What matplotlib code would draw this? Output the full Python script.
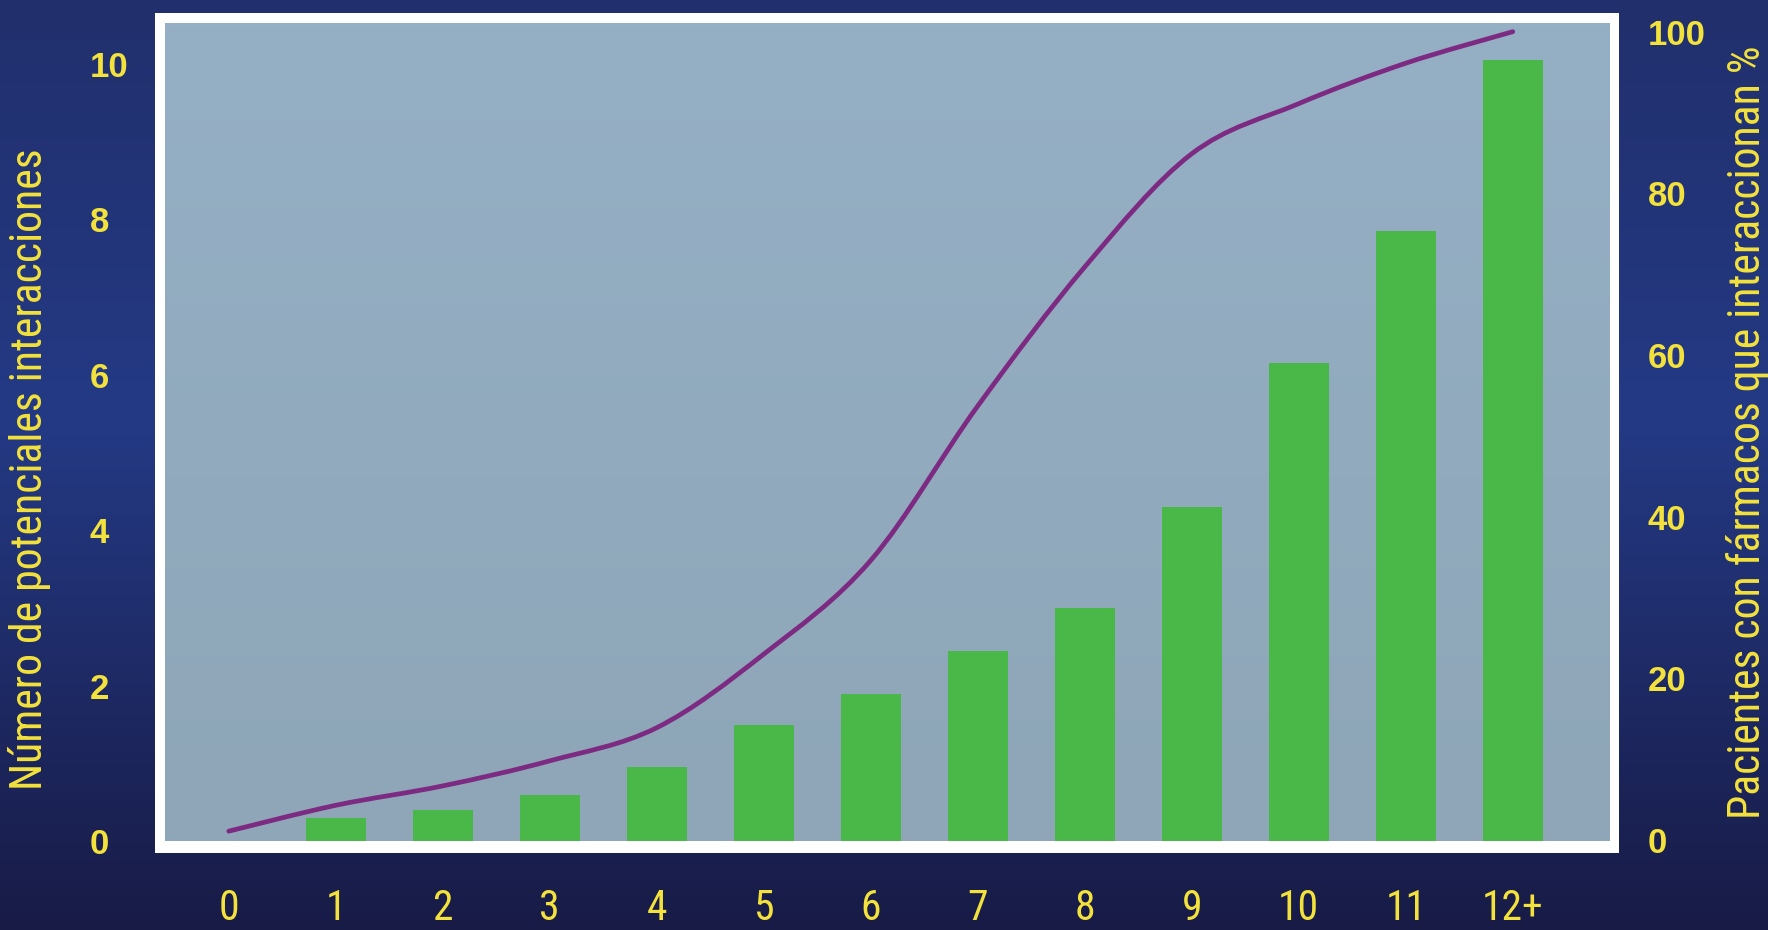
import numpy as np
import matplotlib.pyplot as plt
from matplotlib.patches import Rectangle, PathPatch
from matplotlib.path import Path
from matplotlib.colors import LinearSegmentedColormap

# number of drugs per patient
categories = ['0', '1', '2', '3', '4', '5', '6', '7', '8', '9', '10', '11', '12+']
# potential interactions (left axis, bars)
interactions = [0, 0.3, 0.4, 0.6, 0.95, 1.5, 1.9, 2.45, 3.0, 4.3, 6.15, 7.85, 10.05]
# patients with interacting drugs, % (right axis, line)
patients_pct = [1.1, 4.3, 6.7, 9.8, 13.9, 23.0, 34.6, 53.7, 70.9, 84.9, 91.1, 96.1, 100.0]

left_ticks = [0, 2, 4, 6, 8, 10]
right_ticks = [0, 20, 40, 60, 80, 100]

yellow = '#f3e23c'
green = '#4ab848'
purple = '#7c2a82'
narrow = ['Roboto Condensed', 'Archivo Narrow', 'Liberation Sans', 'DejaVu Sans']
bold_sans = ['Liberation Sans', 'DejaVu Sans']


def smooth_path(xs, ys):
    # Catmull-Rom curve through the points, as cubic Bezier segments
    pts = np.column_stack([xs, ys]).astype(float)
    ext = np.vstack([pts[0], pts, pts[-1]])
    verts = [pts[0]]
    codes = [Path.MOVETO]
    for i in range(1, len(ext) - 2):
        p0, p1, p2, p3 = ext[i - 1], ext[i], ext[i + 1], ext[i + 2]
        verts += [p1 + (p2 - p0) / 6, p2 - (p3 - p1) / 6, p2]
        codes += [Path.CURVE4] * 3
    return Path(verts, codes)


fig = plt.figure(figsize=(17.68, 9.30), dpi=100)

# dark blue slide background
bg = fig.add_axes([0, 0, 1, 1], zorder=-5)
bg_cmap = LinearSegmentedColormap.from_list(
    'slide', [(0, '#181b46'), (0.55, '#243a85'), (1, '#212f6c')])
bg.imshow(np.linspace(0, 1, 256).reshape(-1, 1), cmap=bg_cmap, aspect='auto',
          origin='lower', extent=[0, 1, 0, 1])
bg.axis('off')

# white frame round the plot area
fig.add_artist(Rectangle((0.0874, 0.0833), 0.8284, 0.9022, transform=fig.transFigure,
                         facecolor='white', edgecolor='none', zorder=-1))

ax = fig.add_axes([0.0931, 0.0955, 0.817, 0.880])
ax2 = ax.twinx()

plot_cmap = LinearSegmentedColormap.from_list('plot', ['#8ea6b7', '#95afc5'])
ax.imshow(np.linspace(0, 1, 128).reshape(-1, 1), cmap=plot_cmap, aspect='auto',
          origin='lower', extent=[0, 1, 0, 1], transform=ax.transAxes, zorder=0)

x = np.arange(len(categories))
ax.bar(x, interactions, width=0.56, color=green, zorder=2, clip_on=False)

ax2.add_patch(PathPatch(smooth_path(x, patients_pct), facecolor='none',
                        edgecolor=purple, linewidth=3.4, capstyle='round', zorder=3))

ax.set_xlim(-0.6, 12.9)
ax.set_ylim(0.087, 10.53)
ax2.set_ylim(-0.14, 101.1)

for a in (ax, ax2):
    for s in a.spines.values():
        s.set_visible(False)
    a.tick_params(length=0)

ax.set_xticks(x)
ax.set_xticklabels(categories, color=yellow, fontsize=30, family=narrow)
ax.tick_params(axis='x', pad=56.5)
plt.setp(ax.get_xticklabels(), va='baseline')

ax.set_yticks(left_ticks)
ax.set_yticklabels([str(t) for t in left_ticks], color=yellow, fontsize=25,
                   fontweight='bold', family=bold_sans)
ax.tick_params(axis='y', pad=54)
for lbl in ax.get_yticklabels():
    lbl.set_horizontalalignment('left')

ax2.set_yticks(right_ticks)
ax2.set_yticklabels([str(t) for t in right_ticks], color=yellow, fontsize=25,
                    fontweight='bold', family=bold_sans)
ax2.tick_params(axis='y', pad=28)

fig.text(0.0165, 0.496, 'Número de potenciales interacciones', rotation=90,
         ha='center', va='center', color=yellow, fontsize=31.5, family=narrow)
fig.text(0.9885, 0.535, 'Pacientes con fármacos que interaccionan %', rotation=90,
         ha='center', va='center', color=yellow, fontsize=31.5, family=narrow)

fig.savefig('out.png', dpi=100)
